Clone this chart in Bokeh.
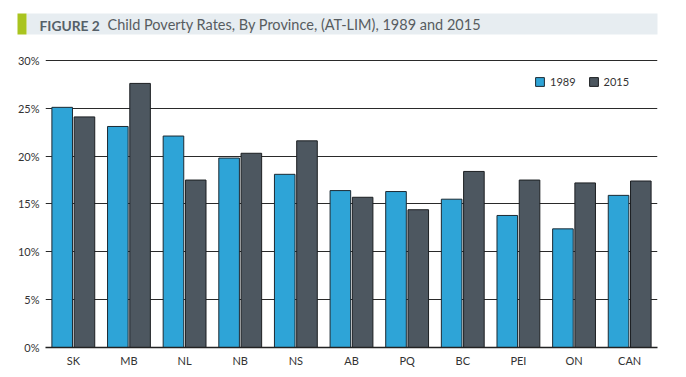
from bokeh.plotting import figure
from bokeh.layouts import column
from bokeh.models import (ColumnDataSource, FactorRange, Range1d, Label, BoxAnnotation,
                          Legend, LegendItem, FixedTicker, CustomJSTickFormatter)
from bokeh.transform import dodge
from bokeh.embed import file_html
from bokeh.resources import INLINE

categories = ["SK", "MB", "NL", "NB", "NS", "AB", "PQ", "BC", "PEI", "ON", "CAN"]
rates_1989 = [25.1, 23.1, 22.1, 19.8, 18.1, 16.4, 16.3, 15.5, 13.8, 12.4, 15.9]
rates_2015 = [24.1, 27.6, 17.5, 20.3, 21.6, 15.7, 14.4, 18.4, 17.5, 17.2, 17.4]
series_names = ["1989", "2015"]
y_ticks = [0, 5, 10, 15, 20, 25, 30]
title_bold = "FIGURE 2"
title_text = "Child Poverty Rates, By Province, (AT-LIM), 1989 and 2015"

BLUE = "#2ea4d7"
DARK = "#4d5760"
FONT = "Lato"
W = 670
LEFT, RIGHT = 45, 13

# ---- title banner (its own full-width frame: pixel x == data x) ----
banner = figure(width=W, height=45, x_range=Range1d(0, W), y_range=Range1d(45, 0),
                output_backend="svg", toolbar_location=None,
                x_axis_type=None, y_axis_type=None,
                min_border_left=0, min_border_right=0,
                min_border_top=0, min_border_bottom=0)
if "frame_align" in banner.properties():
    banner.frame_align = False
banner.outline_line_color = None
banner.xgrid.visible = False
banner.ygrid.visible = False
banner.add_layout(BoxAnnotation(left=26, right=657, top=13, bottom=34,
                                fill_color="#e7edf1", fill_alpha=1, line_color=None))
banner.add_layout(BoxAnnotation(left=17, right=26, top=13, bottom=34,
                                fill_color="#a9c41f", fill_alpha=1, line_color=None))
banner.add_layout(Label(x=39, y=24.5, text=title_bold, text_font=FONT,
                        text_font_style="bold", text_font_size="13.8px",
                        text_color="#556068", text_baseline="middle"))
banner.add_layout(Label(x=107, y=24, text=title_text, text_font=FONT,
                        text_font_size="14.5px", text_color="#575c60",
                        text_baseline="middle"))

# ---- chart ----
src = ColumnDataSource(dict(cat=categories, a=rates_1989, b=rates_2015))

p = figure(x_range=FactorRange(*categories, range_padding=0), y_range=Range1d(0, 30.1),
           width=W, height=328, output_backend="svg", toolbar_location=None,
           min_border_left=LEFT, min_border_right=RIGHT, min_border_top=14, min_border_bottom=26)
if "frame_align" in p.properties():
    p.frame_align = False
p.outline_line_color = None
p.background_fill_color = "white"

r1 = p.vbar(x=dodge("cat", -0.2, range=p.x_range), top="a", width=0.37, source=src,
            fill_color=BLUE, line_color="#1c2a33", line_width=1)
r2 = p.vbar(x=dodge("cat", 0.2, range=p.x_range), top="b", width=0.37, source=src,
            fill_color=DARK, line_color="#1c1f22", line_width=1)

p.yaxis.ticker = FixedTicker(ticks=y_ticks)
p.yaxis.formatter = CustomJSTickFormatter(code="return tick + '%';")
p.yaxis.axis_line_color = None
p.yaxis.major_tick_line_color = None
p.yaxis.minor_tick_line_color = None
p.yaxis.major_tick_out = 0
p.yaxis.major_tick_in = 0
p.yaxis.major_label_standoff = 6
p.yaxis.major_label_text_font = FONT
p.yaxis.major_label_text_font_size = "11px"
p.yaxis.major_label_text_color = "#333333"

p.xaxis.axis_line_color = "#222222"
p.xaxis.axis_line_width = 1.5
p.xaxis.major_tick_line_color = None
p.xaxis.minor_tick_line_color = None
p.xaxis.major_tick_out = 0
p.xaxis.major_tick_in = 0
p.xaxis.major_label_standoff = 6
p.xaxis.major_label_text_font = FONT
p.xaxis.major_label_text_font_size = "11px"
p.xaxis.major_label_text_color = "#333333"

p.xgrid.grid_line_color = None
p.ygrid.ticker = FixedTicker(ticks=y_ticks)
p.ygrid.grid_line_color = "#2a2a2a"
p.ygrid.grid_line_width = 1

legend = Legend(items=[LegendItem(label=series_names[0], renderers=[r1]),
                       LegendItem(label=series_names[1], renderers=[r2])],
                orientation="horizontal", location=(489, 259),
                border_line_color=None, background_fill_alpha=0,
                label_text_font=FONT, label_text_font_size="11px", label_text_color="#333333",
                glyph_width=11, glyph_height=11, spacing=12, padding=0, margin=0,
                label_standoff=5)
p.add_layout(legend)

layout = column(banner, p, spacing=0)
open("out.html", "w").write(file_html(layout, INLINE))
